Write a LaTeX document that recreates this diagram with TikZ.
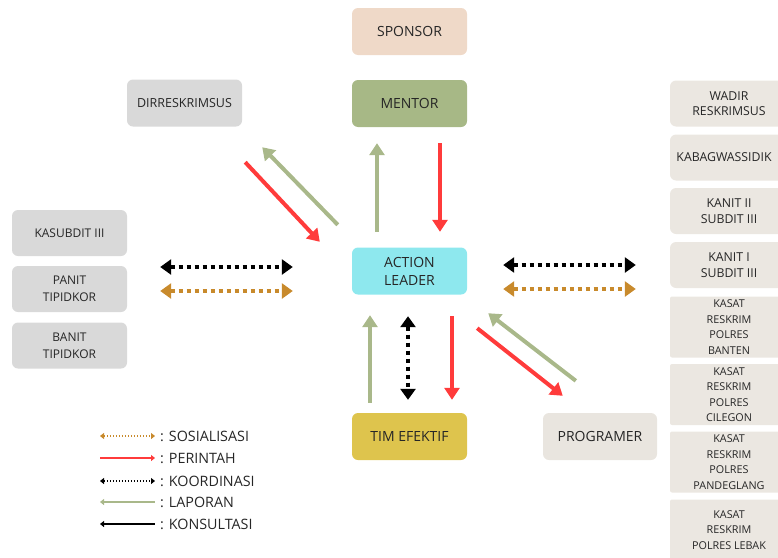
\documentclass[tikz,border=0pt]{standalone}
\usepackage{fontspec}
\setmainfont{Open Sans}
\usetikzlibrary{arrows.meta,positioning}
\definecolor{sponsorc}{HTML}{EFD9C8}
\definecolor{mentorc}{HTML}{A7B886}
\definecolor{abu}{HTML}{D9D9D9}
\definecolor{leaderc}{HTML}{8EE8EE}
\definecolor{timc}{HTML}{DEC44D}
\definecolor{progc}{HTML}{E9E5DF}
\definecolor{krem}{HTML}{EBE7E1}
\definecolor{merah}{HTML}{FF3B3B}
\definecolor{hijau}{HTML}{A9B88A}
\definecolor{coklat}{HTML}{C88A2C}
\definecolor{teks}{HTML}{262626}

\begin{document}
\begin{tikzpicture}[x=1pt,y=-1pt]
\tikzstyle{every node}+=[inner sep=0pt, text=teks, align=center]
\tikzstyle{box}=[rounded corners=6pt, minimum width=115pt, minimum height=47pt, font=\fontsize{14}{18}\selectfont]
\tikzstyle{lbox}=[box, fill=abu, minimum height=46pt, font=\fontsize{12}{17}\selectfont]
\tikzstyle{rbox}=[box, fill=krem, minimum width=118pt, minimum height=46pt, font=\fontsize{12.3}{15.5}\selectfont]
\tikzstyle{kbox}=[rbox, rounded corners=2pt, minimum height=61pt, font=\fontsize{10.8}{15.5}\selectfont]
\tikzstyle{lapor}=[draw=hijau, line width=4pt, -{Triangle[width=15pt,length=12pt]}]
\tikzstyle{perintah}=[draw=merah, line width=4pt, -{Triangle[width=15pt,length=12pt]}]
\tikzstyle{koord}=[draw=black, line width=4pt, dash pattern=on 4pt off 4pt, {Triangle[width=15pt,length=11pt]}-{Triangle[width=15pt,length=11pt]}]
\tikzstyle{sosial}=[koord, draw=coklat]
\tikzstyle{leg}=[anchor=west, font=\fontsize{14.3}{17}\selectfont]
\tikzstyle{legline}=[line width=1.4pt]
\useasboundingbox (0,0) rectangle (778,557);
\node[box, fill=sponsorc] (sponsor) at (409.5,31.5) {SPONSOR};
\node[box, fill=mentorc] (mentor) at (409.5,103.5) {MENTOR};
\node[box, fill=abu, font=\fontsize{12.5}{16}\selectfont] (dir) at (184.5,103) {DIRRESKRIMSUS};
\node[box, fill=leaderc] (lead) at (409.5,271) {ACTION\\LEADER};
\node[box, fill=timc] (tim) at (409.5,436.5) {TIM EFEKTIF};
\node[box, fill=progc, minimum width=114pt] (prog) at (600,436.5) {PROGRAMER};
\node[lbox] (kasub) at (69.5,233) {KASUBDIT III};
\node[lbox] (panit) at (69.5,289) {PANIT\\TIPIDKOR};
\node[lbox] (banit) at (69.5,345.5) {BANIT\\TIPIDKOR};
\node[rbox] (wadir) at (729,103.5) {WADIR\\RESKRIMSUS};
\node[rbox] (kabag) at (729,157.5) {KABAGWASSIDIK\hspace*{10pt}};
\node[rbox] (kanit2) at (729,211) {KANIT II\\SUBDIT III};
\node[rbox] (kanit1) at (729,265) {KANIT I\\SUBDIT III};
\node[kbox] (banten) at (729,327) {KASAT\\RESKRIM\\POLRES\\BANTEN};
\node[kbox] (cilegon) at (729,394.5) {KASAT\\RESKRIM\\POLRES\\CILEGON};
\node[kbox] (pandeg) at (729,462) {KASAT\\RESKRIM\\POLRES\\PANDEGLANG};
\node[kbox] (lebak) at (729,530) {KASAT\\RESKRIM\\POLRES LEBAK};

\draw[lapor, shorten <=15.5pt, shorten >=16pt] ([xshift=-32.5]lead.north) -- ([xshift=-32.5]mentor.south);
\draw[perintah, shorten <=16pt, shorten >=15.5pt] ([xshift=30.5]mentor.south) -- ([xshift=30.5]lead.north);
\draw[perintah] ([shift={(3,35.5)}]dir.south east) -- ([shift={(-32,-5.5)}]lead.north west);
\draw[lapor] ([shift={(-14,-22.5)}]lead.north west) -- ([shift={(20,20.5)}]dir.south east);
\draw[koord, shorten <=33pt, shorten >=59pt] ([yshift=22]panit.east) -- ([yshift=4]lead.west);
\draw[sosial, shorten <=33pt, shorten >=59pt] ([yshift=-2]panit.east) -- ([yshift=-20]lead.west);
\draw[koord, shorten <=36pt, shorten >=34pt] ([yshift=6]lead.east) -- ([yshift=0]kanit1.west);
\draw[sosial, shorten <=36pt, shorten >=34pt] ([yshift=-18]lead.east) -- ([yshift=-24]kanit1.west);
\draw[lapor, shorten <=10pt, shorten >=20.5pt] ([xshift=-39.5]tim.north) -- ([xshift=-39.5]lead.south);
\draw[koord, shorten <=21.5pt, shorten >=13pt] ([xshift=-1.5]lead.south) -- ([xshift=-1.5]tim.north);
\draw[perintah, shorten <=21.5pt, shorten >=13pt] ([xshift=42.5]lead.south) -- ([xshift=42.5]tim.north);
\draw[perintah] ([shift={(10,33.5)}]lead.south east) -- ([shift={(20,-17)}]prog.north west);
\draw[lapor] ([shift={(33,-32)}]prog.north west) -- ([shift={(21,18.5)}]lead.south east);

\node[leg] (s1) at (160,436) {: SOSIALISASI};
\node[leg] (s2) at (160,458) {: PERINTAH};
\node[leg] (s3) at (160,481) {: KOORDINASI};
\node[leg] (s4) at (160,502) {: LAPORAN};
\node[leg] (s5) at (160,524) {: KONSULTASI};
\draw[legline, draw=coklat, dash pattern=on 1.5pt off 1.5pt, {Triangle[width=6pt,length=4pt]}-{Triangle[width=6pt,length=4pt]}] ([xshift=-60]s1.west) -- ([xshift=-5]s1.west);
\draw[legline, draw=merah, -{Triangle[width=6pt,length=4pt]}] ([xshift=-60]s2.west) -- ([xshift=-5]s2.west);
\draw[legline, draw=black, dash pattern=on 1.5pt off 1.5pt, {Triangle[width=6pt,length=4pt]}-{Triangle[width=6pt,length=4pt]}] ([xshift=-60]s3.west) -- ([xshift=-5]s3.west);
\draw[legline, draw=hijau, {Triangle[width=6pt,length=4pt]}-] ([xshift=-60]s4.west) -- ([xshift=-5]s4.west);
\draw[legline, draw=black, {Triangle[width=6pt,length=4pt]}-] ([xshift=-60]s5.west) -- ([xshift=-5]s5.west);
\end{tikzpicture}
\end{document}
